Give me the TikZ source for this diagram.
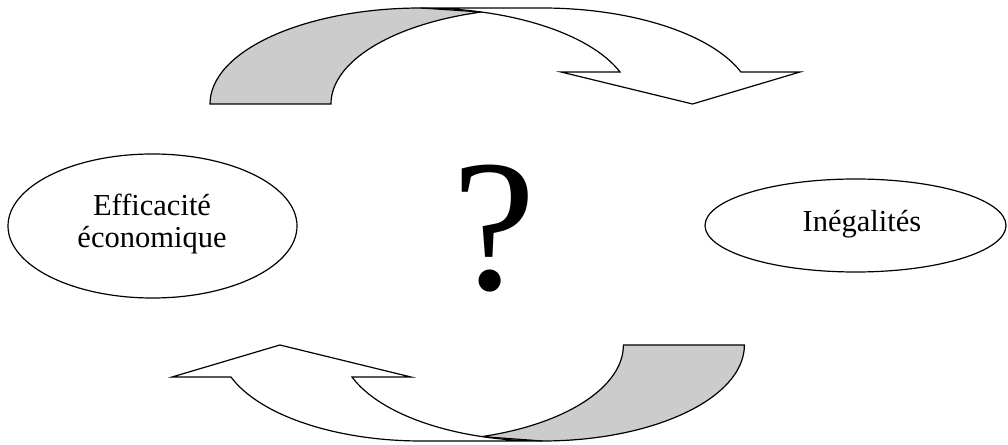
\documentclass[tikz,border=0pt]{standalone}
\usepackage{fontspec}
\setmainfont{Liberation Serif}
\usetikzlibrary{shapes.geometric}
\definecolor{shade}{gray}{0.8}
\begin{document}
\begin{tikzpicture}[x=1pt,y=1pt,
  band/.style={draw=black, line width=1.2pt, line join=miter},
  oval/.style={ellipse, draw=black, line width=1.2pt, inner sep=0pt},
  lbl/.style={font=\fontsize{30.5}{32}\selectfont, align=center, inner sep=0pt}]
\useasboundingbox (0,0) rectangle (1008,444);
% top curved arrow (pointing down to the right)
\draw[band, fill=shade] (210,340)
  arc[start angle=180, end angle=90, x radius=211, y radius=96]
  -- (481.5,432)
  arc[start angle=106.66, end angle=180, x radius=211, y radius=96] -- cycle;
\draw[band, fill=white] (692.5,340) -- (561,372) -- (620,372)
  arc[start angle=19.47, end angle=90, x radius=211, y radius=96]
  -- (542,436)
  arc[start angle=90, end angle=19.47, x radius=211, y radius=96]
  -- (800,372) -- cycle;
% bottom curved arrow (pointing up to the left)
\draw[band, fill=shade] (744.4,99)
  arc[start angle=0, end angle=-90, x radius=202, y radius=96]
  -- (481.9,7.4)
  arc[start angle=287.43, end angle=360, x radius=202, y radius=96] -- cycle;
\draw[band, fill=white] (279.9,99) -- (411,67) -- (352,67)
  arc[start angle=199.47, end angle=270, x radius=202, y radius=96]
  -- (421.4,3)
  arc[start angle=270, end angle=199.47, x radius=202, y radius=96]
  -- (172,67) -- cycle;
% ellipses and texts
\node[oval, minimum width=289, minimum height=144] (eff) at (152.5,218) {};
\node[lbl] (efftxt) at (152,220) {Efficacité\\économique};
\node[oval, minimum width=301, minimum height=93] (ineg) at (855.5,218.5) {};
\node[lbl, anchor=base] (inegtxt) at (862,212.5) {Inégalités};
\node[font=\fontsize{188}{188}\selectfont, anchor=base, inner sep=0pt] (q) at (494,154) {?};
\end{tikzpicture}
\end{document}
